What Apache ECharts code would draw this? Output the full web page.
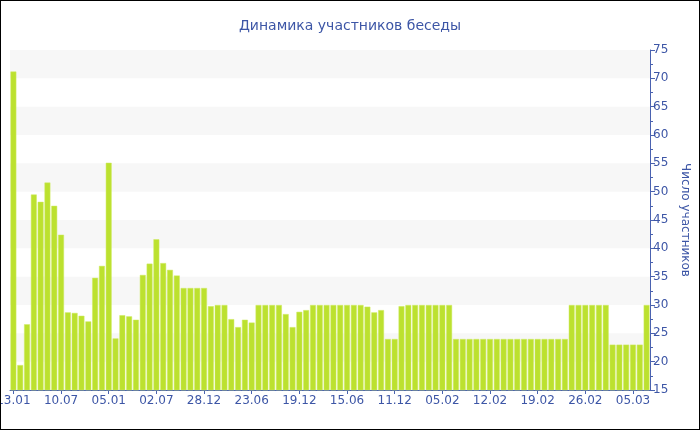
<!DOCTYPE html>
<html>
<head>
<meta charset="utf-8">
<script src="https://cdn.jsdelivr.net/npm/echarts@6/dist/echarts.min.js"></script>
<style>
  html, body { margin: 0; padding: 0; background: #fff; }
  #chart { width: 700px; height: 430px; box-sizing: border-box; border: 1px solid #000; }
</style>
</head>
<body>
<div id="chart"></div>
<script>
// подписи делений оси X (каждый 7-й столбец)
const tickLabels = ['13.01', '10.07', '05.01', '02.07', '28.12', '23.06', '19.12',
  '15.06', '11.12', '05.02', '12.02', '19.02', '26.02', '05.03']
const tickStep = 7

// число участников
const members = [
  71.2, 19.4, 26.6, 49.5, 48.2, 51.6, 47.5, 42.4, 28.7, 28.6,
  28.1, 27.1, 34.8, 36.9, 55.1, 24.1, 28.2, 28.0, 27.4, 35.3,
  37.3, 41.6, 37.4, 36.2, 35.2, 33, 33, 33, 33, 29.8,
  30, 30, 27.5, 26.1, 27.4, 26.9, 30, 30, 30, 30,
  28.4, 26.1, 28.8, 29.1, 30, 30, 30, 30, 30, 30,
  30, 30, 29.7, 28.7, 29.1, 24, 24, 29.8, 30, 30,
  30, 30, 30, 30, 30, 24, 24, 24, 24, 24,
  24, 24, 24, 24, 24, 24, 24, 24, 24, 24,
  24, 24, 30, 30, 30, 30, 30, 30, 23, 23,
  23, 23, 23, 30
]

const categories = members.map((v, i) => i)

const textColor = '#3d56a6'
const lineColor = '#4a62b0'

let chart = echarts.init(document.getElementById('chart'))

let option = {
  animation: false,
  textStyle: { fontFamily: 'DejaVu Sans' },
  title: {
    text: 'Динамика участников беседы',
    left: 'center',
    top: 13,
    textStyle: {
      color: textColor,
      fontSize: 14,
      fontWeight: 'normal',
      fontFamily: 'DejaVu Sans'
    }
  },
  grid: {
    left: 9,
    right: 49,
    top: 49,
    bottom: 39,
    containLabel: false,
    outerBoundsMode: 'none'
  },
  xAxis: {
    type: 'category',
    data: categories,
    axisLine: { show: true, lineStyle: { color: lineColor } },
    axisTick: {
      show: true,
      alignWithLabel: true,
      interval: (idx) => idx % tickStep === 0,
      length: 4,
      lineStyle: { color: lineColor }
    },
    axisLabel: {
      interval: (idx) => idx % tickStep === 0,
      formatter: (v, idx) => tickLabels[idx / tickStep] || '',
      color: textColor,
      fontSize: 12,
      margin: 5,
      hideOverlap: false
    },
    splitLine: { show: false }
  },
  yAxis: {
    type: 'value',
    position: 'right',
    min: 15,
    max: 75,
    interval: 5,
    name: 'Число участников',
    nameLocation: 'middle',
    nameRotate: -90,
    nameGap: 27,
    nameTextStyle: { color: textColor, fontSize: 12 },
    axisLine: { show: true, lineStyle: { color: lineColor } },
    axisTick: { show: true, length: 5, lineStyle: { color: lineColor } },
    minorTick: { show: true, splitNumber: 2, length: 3, lineStyle: { color: lineColor } },
    axisLabel: { color: textColor, fontSize: 12, margin: 3 },
    splitLine: { show: false },
    splitArea: {
      show: true,
      areaStyle: { color: ['rgba(255,255,255,0)', '#f7f7f7'] }
    }
  },
  series: [{
    type: 'bar',
    data: members,
    barCategoryGap: '14%',
    itemStyle: {
      color: '#bce12f',
      borderColor: '#cfeb62',
      borderWidth: 0.5
    }
  }]
}

chart.setOption(option)
</script>
</body>
</html>
